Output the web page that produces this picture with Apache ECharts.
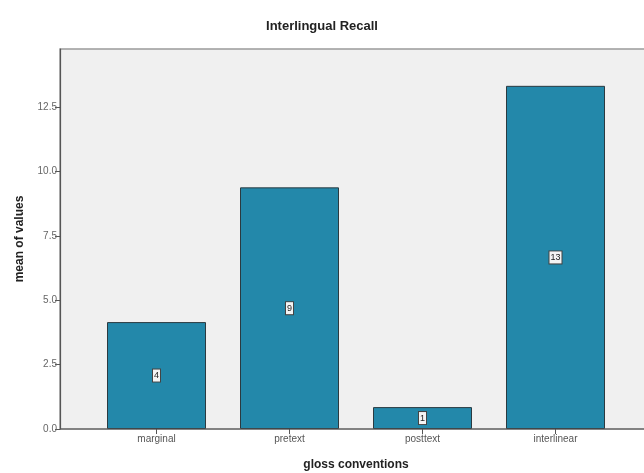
<!DOCTYPE html>
<html>
<head>
<meta charset="utf-8">
<script src="https://cdn.jsdelivr.net/npm/echarts@6/dist/echarts.min.js"></script>
<style>html,body{margin:0;padding:0;background:#fff}#c{width:644px;height:473px}</style>
</head>
<body>
<div id="c"></div>
<script>
const categories = ['marginal', 'pretext', 'posttext', 'interlinear'];
const meanValues = [4.15, 9.38, 0.85, 13.32];
const yTicks = [0, 2.5, 5, 7.5, 10, 12.5];
const yMax = 14.75;

const chart = echarts.init(document.getElementById('c'));
const FONT = 'Liberation Sans, Arial, sans-serif';
chart.setOption({
  animation: false,
  backgroundColor: '#ffffff',
  title: {
    text: 'Interlingual Recall',
    left: 'center',
    top: 15,
    textStyle: { fontFamily: FONT, fontSize: 13, fontWeight: 'bold', color: '#222' }
  },
  graphic: [
    { type: 'rect', z: -10, shape: { x: 60, y: 49, width: 700, height: 380 },
      style: { fill: '#f0f0f0', stroke: '#9a9a9a', lineWidth: 1.5 } },
    { type: 'line', z: 100, shape: { x1: 60, y1: 429, x2: 700, y2: 429 },
      style: { stroke: '#555', lineWidth: 1.2 } }
  ],
  grid: { left: 90, width: 532, top: 49, bottom: 44, outerBoundsMode: 'none', containLabel: false },
  xAxis: {
    type: 'category',
    data: categories,
    name: 'gloss conventions',
    nameLocation: 'middle',
    nameGap: 30,
    nameTextStyle: { fontFamily: FONT, fontSize: 12, fontWeight: 'bold', color: '#222' },
    axisLine: { show: false },
    axisTick: { show: true, alignWithLabel: true, length: 5, lineStyle: { color: '#555' } },
    axisLabel: { fontFamily: FONT, fontSize: 10, color: '#555', margin: 5 },
    splitLine: { show: false }
  },
  yAxis: {
    type: 'value',
    min: 0,
    max: yMax,
    offset: 30,
    name: 'mean of values',
    nameLocation: 'middle',
    nameGap: 34,
    nameTextStyle: { fontFamily: FONT, fontSize: 12, fontWeight: 'bold', color: '#222' },
    axisLine: { show: true, lineStyle: { color: '#555', width: 1.2 } },
    axisTick: { show: true, length: 5, customValues: yTicks, lineStyle: { color: '#555' } },
    axisLabel: { fontFamily: FONT, fontSize: 10, color: '#666', margin: 3, customValues: yTicks,
      formatter: v => v.toFixed(1) },
    splitLine: { show: false }
  },
  series: [{
    type: 'bar',
    data: meanValues,
    barWidth: 99,
    itemStyle: { color: '#2388aa', borderColor: '#2b3a40', borderWidth: 1 },
    label: {
      show: true,
      position: 'inside',
      formatter: p => String(Math.round(p.value)),
      fontFamily: FONT,
      fontSize: 9,
      color: '#222',
      backgroundColor: '#f4f4f4',
      borderColor: '#444',
      borderWidth: 1,
      padding: [2, 1, 1, 1]
    }
  }]
});
</script>
</body>
</html>
